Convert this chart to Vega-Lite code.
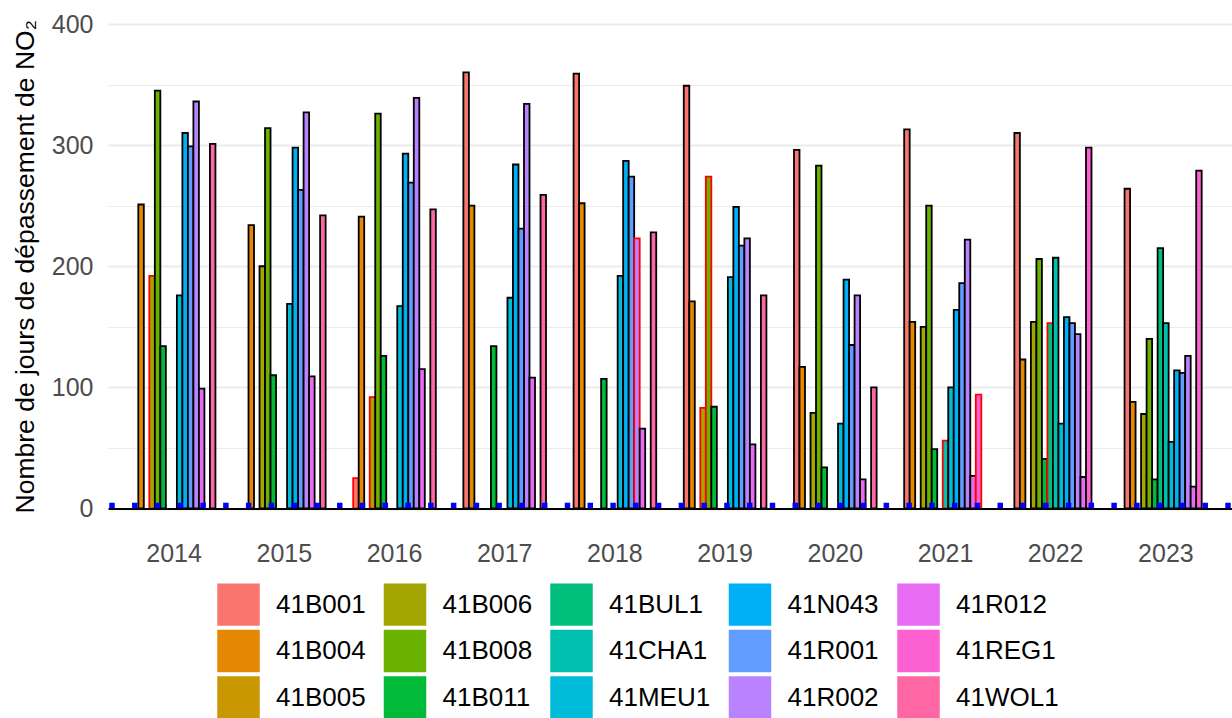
{
  "$schema": "https://vega.github.io/schema/vega-lite/v6.json",
  "width": 1124,
  "height": 484.5,
  "autosize": {"type": "none"},
  "padding": {"left": 108, "top": 24, "right": 0, "bottom": 209.5},
  "config": {"view": {"stroke": null}, "font": "Liberation Sans"},
  "datasets": {
    "bars": [
      {"year": 2014, "station": "41B004", "days": 251},
      {"year": 2014, "station": "41B006", "days": 192, "incomplete": true},
      {"year": 2014, "station": "41B008", "days": 345},
      {"year": 2014, "station": "41B011", "days": 134},
      {"year": 2014, "station": "41MEU1", "days": 176},
      {"year": 2014, "station": "41N043", "days": 310},
      {"year": 2014, "station": "41R001", "days": 299},
      {"year": 2014, "station": "41R002", "days": 336},
      {"year": 2014, "station": "41R012", "days": 99},
      {"year": 2014, "station": "41WOL1", "days": 301},
      {"year": 2015, "station": "41B004", "days": 234},
      {"year": 2015, "station": "41B006", "days": 200},
      {"year": 2015, "station": "41B008", "days": 314},
      {"year": 2015, "station": "41B011", "days": 110},
      {"year": 2015, "station": "41MEU1", "days": 169},
      {"year": 2015, "station": "41N043", "days": 298},
      {"year": 2015, "station": "41R001", "days": 263},
      {"year": 2015, "station": "41R002", "days": 327},
      {"year": 2015, "station": "41R012", "days": 109},
      {"year": 2015, "station": "41WOL1", "days": 242},
      {"year": 2016, "station": "41B001", "days": 25, "incomplete": true},
      {"year": 2016, "station": "41B004", "days": 241},
      {"year": 2016, "station": "41B006", "days": 92, "incomplete": true},
      {"year": 2016, "station": "41B008", "days": 326},
      {"year": 2016, "station": "41B011", "days": 126},
      {"year": 2016, "station": "41MEU1", "days": 167},
      {"year": 2016, "station": "41N043", "days": 293},
      {"year": 2016, "station": "41R001", "days": 269},
      {"year": 2016, "station": "41R002", "days": 339},
      {"year": 2016, "station": "41R012", "days": 115},
      {"year": 2016, "station": "41WOL1", "days": 247},
      {"year": 2017, "station": "41B001", "days": 360},
      {"year": 2017, "station": "41B004", "days": 250},
      {"year": 2017, "station": "41B011", "days": 134},
      {"year": 2017, "station": "41MEU1", "days": 174},
      {"year": 2017, "station": "41N043", "days": 284},
      {"year": 2017, "station": "41R001", "days": 231},
      {"year": 2017, "station": "41R002", "days": 334},
      {"year": 2017, "station": "41R012", "days": 108},
      {"year": 2017, "station": "41WOL1", "days": 259},
      {"year": 2018, "station": "41B001", "days": 359},
      {"year": 2018, "station": "41B004", "days": 252},
      {"year": 2018, "station": "41B011", "days": 107},
      {"year": 2018, "station": "41MEU1", "days": 192},
      {"year": 2018, "station": "41N043", "days": 287},
      {"year": 2018, "station": "41R001", "days": 274},
      {"year": 2018, "station": "41R002", "days": 223, "incomplete": true},
      {"year": 2018, "station": "41R012", "days": 66},
      {"year": 2018, "station": "41WOL1", "days": 228},
      {"year": 2019, "station": "41B001", "days": 349},
      {"year": 2019, "station": "41B004", "days": 171},
      {"year": 2019, "station": "41B006", "days": 83, "incomplete": true},
      {"year": 2019, "station": "41B008", "days": 274, "incomplete": true},
      {"year": 2019, "station": "41B011", "days": 84},
      {"year": 2019, "station": "41MEU1", "days": 191},
      {"year": 2019, "station": "41N043", "days": 249},
      {"year": 2019, "station": "41R001", "days": 217},
      {"year": 2019, "station": "41R002", "days": 223},
      {"year": 2019, "station": "41R012", "days": 53},
      {"year": 2019, "station": "41WOL1", "days": 176},
      {"year": 2020, "station": "41B001", "days": 296},
      {"year": 2020, "station": "41B004", "days": 117},
      {"year": 2020, "station": "41B006", "days": 79},
      {"year": 2020, "station": "41B008", "days": 283},
      {"year": 2020, "station": "41B011", "days": 34},
      {"year": 2020, "station": "41MEU1", "days": 70},
      {"year": 2020, "station": "41N043", "days": 189},
      {"year": 2020, "station": "41R001", "days": 135},
      {"year": 2020, "station": "41R002", "days": 176},
      {"year": 2020, "station": "41R012", "days": 24},
      {"year": 2020, "station": "41WOL1", "days": 100},
      {"year": 2021, "station": "41B001", "days": 313},
      {"year": 2021, "station": "41B004", "days": 154},
      {"year": 2021, "station": "41B006", "days": 150},
      {"year": 2021, "station": "41B008", "days": 250},
      {"year": 2021, "station": "41B011", "days": 49},
      {"year": 2021, "station": "41CHA1", "days": 56, "incomplete": true},
      {"year": 2021, "station": "41MEU1", "days": 100},
      {"year": 2021, "station": "41N043", "days": 164},
      {"year": 2021, "station": "41R001", "days": 186},
      {"year": 2021, "station": "41R002", "days": 222},
      {"year": 2021, "station": "41R012", "days": 27},
      {"year": 2021, "station": "41REG1", "days": 94, "incomplete": true},
      {"year": 2022, "station": "41B001", "days": 310},
      {"year": 2022, "station": "41B004", "days": 123},
      {"year": 2022, "station": "41B006", "days": 154},
      {"year": 2022, "station": "41B008", "days": 206},
      {"year": 2022, "station": "41B011", "days": 41},
      {"year": 2022, "station": "41BUL1", "days": 153, "incomplete": true},
      {"year": 2022, "station": "41CHA1", "days": 207},
      {"year": 2022, "station": "41MEU1", "days": 70},
      {"year": 2022, "station": "41N043", "days": 158},
      {"year": 2022, "station": "41R001", "days": 153},
      {"year": 2022, "station": "41R002", "days": 144},
      {"year": 2022, "station": "41R012", "days": 26},
      {"year": 2022, "station": "41REG1", "days": 298},
      {"year": 2023, "station": "41B001", "days": 264},
      {"year": 2023, "station": "41B004", "days": 88},
      {"year": 2023, "station": "41B006", "days": 78},
      {"year": 2023, "station": "41B008", "days": 140},
      {"year": 2023, "station": "41B011", "days": 24},
      {"year": 2023, "station": "41BUL1", "days": 215},
      {"year": 2023, "station": "41CHA1", "days": 153},
      {"year": 2023, "station": "41MEU1", "days": 55},
      {"year": 2023, "station": "41N043", "days": 114},
      {"year": 2023, "station": "41R001", "days": 112},
      {"year": 2023, "station": "41R002", "days": 126},
      {"year": 2023, "station": "41R012", "days": 18},
      {"year": 2023, "station": "41REG1", "days": 279}
    ],
    "squares": [
      {"i": 1}, {"i": 2}, {"i": 3}, {"i": 4}, {"i": 5}, {"i": 6}, {"i": 7}, {"i": 8}, {"i": 9}, {"i": 10},
      {"i": 11}, {"i": 12}, {"i": 13}, {"i": 14}, {"i": 15}, {"i": 16}, {"i": 17}, {"i": 18}, {"i": 19}, {"i": 20},
      {"i": 21}, {"i": 22}, {"i": 23}, {"i": 24}, {"i": 25}, {"i": 26}, {"i": 27}, {"i": 28}, {"i": 29}, {"i": 30},
      {"i": 31}, {"i": 32}, {"i": 33}, {"i": 34}, {"i": 35}, {"i": 36}, {"i": 37}, {"i": 38}, {"i": 39}, {"i": 40},
      {"i": 41}, {"i": 42}, {"i": 43}, {"i": 44}, {"i": 45}, {"i": 46}, {"i": 47}, {"i": 48}, {"i": 49}, {"i": 50}
    ]
  },
  "layer": [
    {
      "data": {"name": "bars"},
      "mark": {"type": "bar", "strokeWidth": 1.8, "fillOpacity": 1},
      "encoding": {
        "x": {
          "field": "year", "type": "ordinal",
          "scale": {"paddingInner": 0.25, "paddingOuter": 0.225},
          "axis": {"title": null, "ticks": false, "tickSize": 0, "domain": true, "domainColor": "black", "domainWidth": 2, "grid": false, "labelAngle": 0, "labelFontSize": 25, "labelColor": "#4D4D4D", "labelPadding": 33, "zindex": 1}
        },
        "xOffset": {
          "field": "station", "type": "nominal",
          "scale": {"domain": ["41B001","41B004","41B005","41B006","41B008","41B011","41BUL1","41CHA1","41MEU1","41N043","41R001","41R002","41R012","41REG1","41WOL1"], "paddingInner": 0, "paddingOuter": 0}
        },
        "y": {
          "field": "days", "type": "quantitative",
          "scale": {"domain": [0, 400], "nice": false},
          "axis": {
            "values": [0, 50, 100, 150, 200, 250, 300, 350, 400],
            "labelExpr": "datum.value % 100 === 0 ? datum.label : ''",
            "grid": true, "gridColor": "#EBEBEB",
            "gridWidth": {"condition": {"test": "datum.value % 100 === 0", "value": 2}, "value": 1},
            "ticks": false, "domain": false,
            "labelFontSize": 25, "labelColor": "#4D4D4D", "labelPadding": 15,
            "title": "Nombre de jours de dépassement de NO₂",
            "titleFontSize": 26.5, "titleFontWeight": "normal", "titleColor": "black",
            "titleX": -75, "titleY": 242.25, "titleAngle": 270, "titleBaseline": "alphabetic", "titleAlign": "center",
            "zindex": 0
          }
        },
        "fill": {
          "field": "station", "type": "nominal",
          "scale": {
            "domain": ["41B001","41B004","41B005","41B006","41B008","41B011","41BUL1","41CHA1","41MEU1","41N043","41R001","41R002","41R012","41REG1","41WOL1"],
            "range": ["#F8766D","#E58700","#C99800","#A3A500","#6BB100","#00BA38","#00BF7D","#00C0AF","#00BCD8","#00B0F6","#619CFF","#B983FF","#E76BF3","#FD61D1","#FF67A4"]
          },
          "legend": {
            "orient": "none", "legendX": 109, "legendY": 559, "columns": 5, "title": null,
            "symbolType": "square", "symbolSize": 1806, "symbolStrokeWidth": 0, "symbolOpacity": 1,
            "labelFontSize": 26, "labelColor": "black", "labelOffset": 16, "rowPadding": 3.5, "columnPadding": 17.5
          }
        },
        "stroke": {"condition": {"test": "datum.incomplete === true", "value": "red"}, "value": "black"}
      }
    },
    {
      "data": {"name": "squares"},
      "mark": {"type": "point", "shape": "square", "filled": true, "size": 30, "color": "#0000FF", "opacity": 1},
      "encoding": {
        "x": {"field": "i", "type": "ordinal", "scale": {"type": "point", "padding": 0.176}, "axis": null},
        "y": {"datum": 2.5}
      }
    }
  ],
  "resolve": {"scale": {"x": "independent"}}
}
